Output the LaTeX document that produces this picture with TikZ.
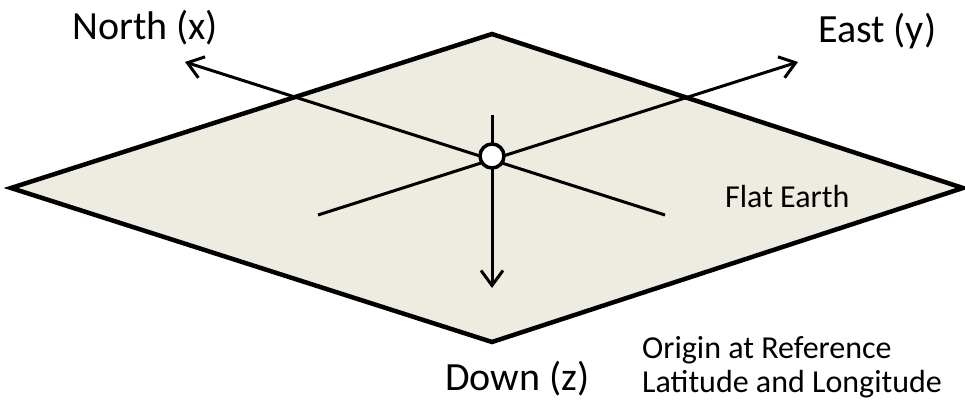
\documentclass[tikz,border=0pt]{standalone}
\usepackage{fontspec}
\setmainfont{Carlito}
\usetikzlibrary{arrows.meta}
\definecolor{earth}{HTML}{EEECE1}
\begin{document}
\begin{tikzpicture}[x=1pt,y=1pt,
  axis/.style={line width=3pt,-{Straight Barb[length=15pt,width=22pt]}},
  plainaxis/.style={line width=3pt},
  bigtxt/.style={inner sep=0pt,anchor=base west,font=\fontsize{40}{48}\selectfont},
  smalltxt/.style={inner sep=0pt,anchor=base west,font=\fontsize{32}{38}\selectfont}]
\useasboundingbox (0,0) rectangle (965,402);
% plane
\coordinate (L) at (11,214);
\coordinate (T) at (492,368);
\coordinate (R) at (963,214);
\coordinate (B) at (492,60);
\draw[line width=4.5pt,line join=miter,fill=earth] (L) -- (T) -- (R) -- (B) -- cycle;
% axes
\coordinate (O) at (492,246);
\coordinate (sw) at (318,187);
\coordinate (ne) at (798,340);
\coordinate (se) at (665,187);
\coordinate (nw) at (185,340);
\coordinate (up) at (492,287);
\coordinate (dn) at (492,114);
\draw[axis] (sw) -- (ne);
\draw[axis] (se) -- (nw);
\draw[axis] (up) -- (dn);
\node[circle,draw,line width=3.5pt,fill=white,minimum size=24pt,inner sep=0pt] (origin) at (O) {};
% labels
\node[bigtxt] (north) at (72,362) {North (x)};
\node[bigtxt] (east) at (818,359) {East (y)};
\node[bigtxt] (down) at (445,12) {Down (z)};
\node[smalltxt] (flat) at (725,195) {Flat Earth};
\node[smalltxt] (orig1) at (642,44) {Origin at Reference};
\node[smalltxt] (orig2) at (642,10) {Latitude and Longitude};
\end{tikzpicture}
\end{document}
